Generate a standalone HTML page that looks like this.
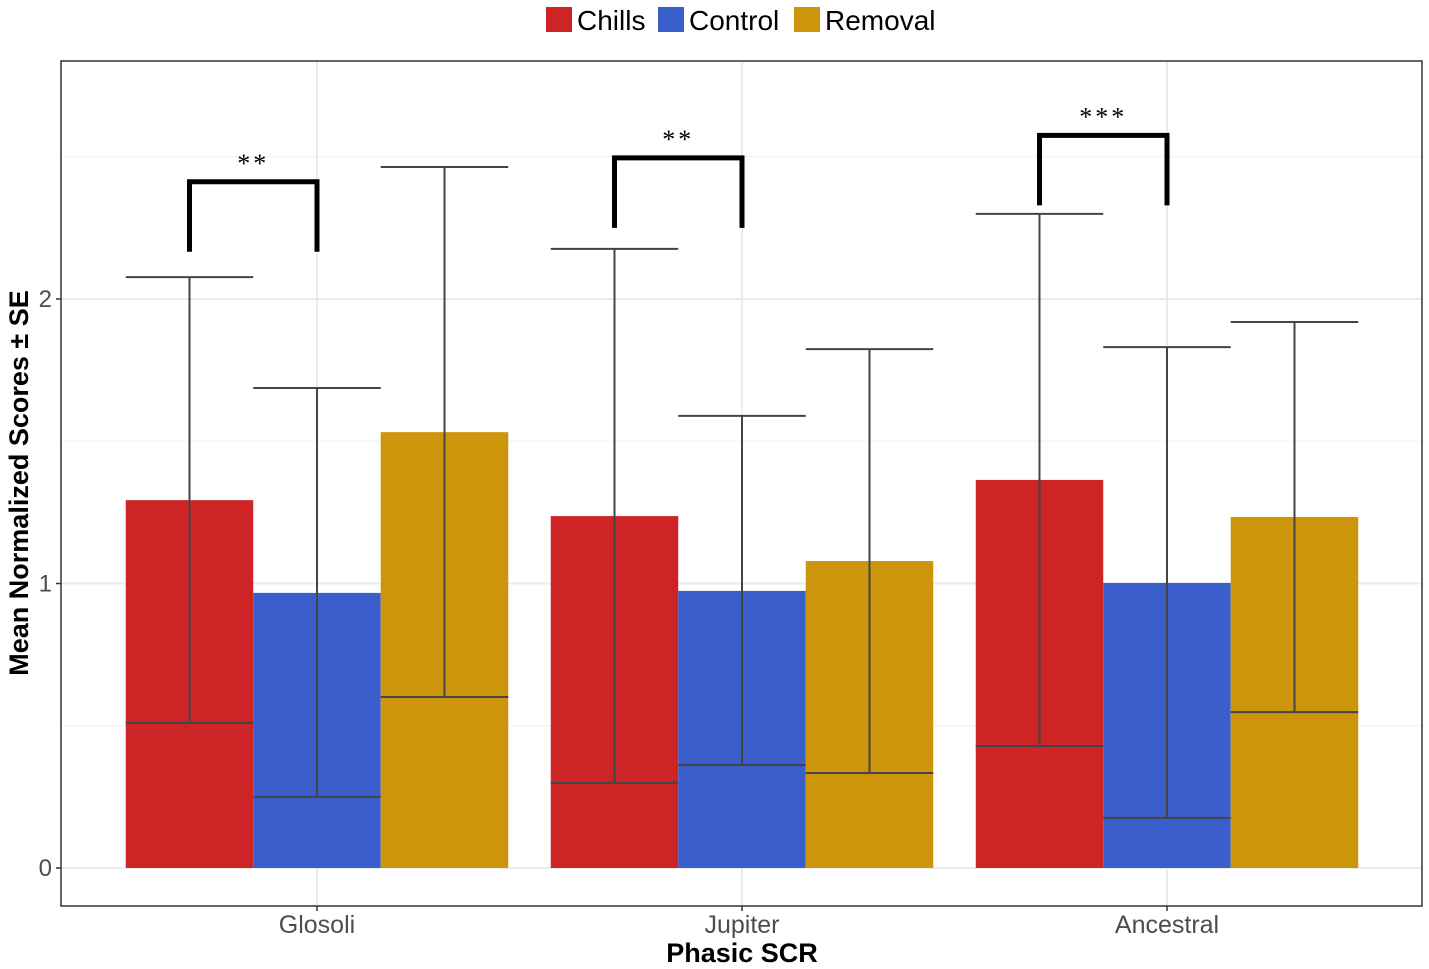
<!DOCTYPE html>
<html><head><meta charset="utf-8"><style>
body{margin:0;background:#fff;}
svg{display:block;font-family:"Liberation Sans",sans-serif;}
</style></head><body>
<svg id="chart" width="1429" height="969"></svg>
<script>
const groups=["Glosoli","Jupiter","Ancestral"];
const seriesNames=["Chills","Control","Removal"];
const colors=["#cd2526","#3a5fcd","#cd950c"];
const chills=[1.293,1.237,1.364];
const control=[0.967,0.974,1.002];
const removal=[1.532,1.079,1.234];
const chillsLo=[0.51,0.299,0.429];
const chillsHi=[2.077,2.176,2.299];
const controlLo=[0.25,0.362,0.176];
const controlHi=[1.687,1.589,1.831];
const removalLo=[0.601,0.334,0.548];
const removalHi=[2.464,1.824,1.919];
const yTicks=[0,1,2];
const yMinor=[0.5,1.5,2.5];
const sigLabels=["**","**","***"];
const sigHeights=[2.412,2.496,2.575];

const NS="http://www.w3.org/2000/svg";
const svg=document.getElementById('chart');
function el(t,a,p){const e=document.createElementNS(NS,t);for(const k in a)e.setAttribute(k,a[k]);(p||svg).appendChild(e);return e;}
const L=61,R=1422,T=61,B=906;
const y=v=>868-v*284.5;
const gx=i=>317+i*425;
const bw=127.5;
const bx=(g,s)=>gx(g)+(s-1.5)*bw;

const panel=el('rect',{x:L,y:T,width:R-L,height:B-T,fill:'#fff'});


yMinor.forEach(v=>{const l=el('line',{x1:L,x2:R,y1:y(v),y2:y(v),stroke:'#f0f0f0','stroke-width':1});

});
yTicks.forEach(v=>{const l=el('line',{x1:L,x2:R,y1:y(v),y2:y(v),stroke:'#ebebeb','stroke-width':2});

});
groups.forEach((g,i)=>{const l=el('line',{x1:gx(i),x2:gx(i),y1:T,y2:B,stroke:'#ebebeb','stroke-width':2});

});

const vals=[chills,control,removal],los=[chillsLo,controlLo,removalLo],his=[chillsHi,controlHi,removalHi];
groups.forEach((g,i)=>{
  for(let s=0;s<3;s++){
    const r=el('rect',{x:bx(i,s),y:y(vals[s][i]),width:bw,height:y(0)-y(vals[s][i]),fill:colors[s]});
    
    
  }
});
groups.forEach((g,i)=>{
  for(let s=0;s<3;s++){
    const x0=bx(i,s),xc=x0+bw/2,lo=y(los[s][i]),hi=y(his[s][i]);
    const gEl=el('g',{stroke:'#444','stroke-width':2});
    
    
    el('line',{x1:xc,x2:xc,y1:lo,y2:hi},gEl);
    el('line',{x1:x0,x2:x0+bw,y1:lo,y2:lo},gEl);
    el('line',{x1:x0,x2:x0+bw,y1:hi,y2:hi},gEl);
  }
  const xa=bx(i,0)+bw/2,xb=bx(i,1)+bw/2,top=y(sigHeights[i]),leg=top+70;
  const br=el('path',{d:`M${xa},${leg}V${top}H${xb}V${leg}`,fill:'none',stroke:'#000','stroke-width':5});
  
  
  const st=el('text',{x:(xa+xb)/2,y:top-10,'text-anchor':'middle','font-size':26,'font-family':'Liberation Serif, serif','letter-spacing':3});
  st.textContent=sigLabels[i];
  
  
});
const border=el('rect',{x:L,y:T,width:R-L,height:B-T,fill:'none',stroke:'#333','stroke-width':1.5});



yTicks.forEach(v=>{
  const t=el('line',{x1:L-5,x2:L,y1:y(v),y2:y(v),stroke:'#333','stroke-width':1.5});
  
  
  const tx=el('text',{x:L-9,y:y(v)+8,'text-anchor':'end','font-size':24,fill:'#4d4d4d'});
  tx.textContent=v;
  
  
});
groups.forEach((g,i)=>{
  const t=el('line',{x1:gx(i),x2:gx(i),y1:B,y2:B+5,stroke:'#333','stroke-width':1.5});
  
  
  const tx=el('text',{x:gx(i),y:933,'text-anchor':'middle','font-size':25,fill:'#4d4d4d'});
  tx.textContent=g;
  
  
});
const xt=el('text',{x:742,y:962,'text-anchor':'middle','font-size':27,'font-weight':'bold'});
xt.textContent='Phasic SCR';


const yt=el('text',{x:0,y:0,'text-anchor':'middle','font-size':27,'font-weight':'bold',transform:'translate(28,483) rotate(-90)'});
yt.textContent='Mean Normalized Scores ± SE';



const legX=[546,658,794];
seriesNames.forEach((n,s)=>{
  const g=el('g',{});
  
  
  el('rect',{x:legX[s],y:7,width:26,height:25,fill:colors[s]},g);
  const t=el('text',{x:legX[s]+31,y:30,'font-size':28,fill:'#000'},g);
  t.textContent=n;
});
</script>
</body></html>
